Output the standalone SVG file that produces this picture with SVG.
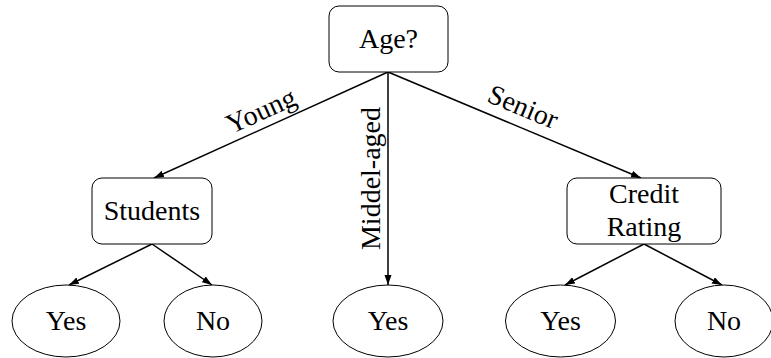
<svg xmlns="http://www.w3.org/2000/svg" width="771" height="358" viewBox="0 0 771 358">
<style>
  text { font-family: "Times New Roman", "Liberation Serif", Times, "DejaVu Serif", serif; font-size: 28px; fill: #000; text-anchor: middle; }
  .node { fill: #fff; stroke: #000; stroke-width: 1; }
  .edge { stroke: #000; stroke-width: 1.5; fill: none; marker-end: url(#arrow); }
</style>
<defs>
  <marker id="arrow" markerUnits="userSpaceOnUse" markerWidth="11" markerHeight="8" refX="10" refY="3.5" orient="auto">
    <path d="M0,0 L10,3.5 L0,7 z" fill="#000"/>
  </marker>
</defs>
<rect width="771" height="358" fill="#fff"/>
<g id="connectors">
  <line class="edge" x1="388" y1="72" x2="154" y2="178"/>
  <line class="edge" x1="388" y1="72" x2="388" y2="285"/>
  <line class="edge" x1="388" y1="72" x2="641" y2="178"/>
  <line class="edge" x1="152" y1="244" x2="69" y2="285"/>
  <line class="edge" x1="152" y1="244" x2="212" y2="285"/>
  <line class="edge" x1="644" y1="244" x2="565" y2="285"/>
  <line class="edge" x1="644" y1="244" x2="722" y2="285"/>
  <text transform="translate(264.7,119.2) rotate(-24.3)">Young</text>
  <text transform="translate(380,178.5) rotate(-90)">Middel-aged</text>
  <text transform="translate(519.5,115.3) rotate(22.65)">Senior</text>
</g>
<g id="age">
  <rect class="node" x="329" y="6" width="119" height="66" rx="10"/>
  <text x="388.5" y="48">Age?</text>
</g>
<g id="students">
  <rect class="node" x="92" y="178" width="120" height="66" rx="10"/>
  <text x="152" y="220">Students</text>
</g>
<g id="credit">
  <rect class="node" x="567" y="178" width="154" height="66" rx="10"/>
  <text x="644" y="203">Credit</text>
  <text x="644" y="236">Rating</text>
</g>
<g id="yes1">
  <ellipse class="node" cx="66" cy="321" rx="54" ry="36"/>
  <text x="66" y="330">Yes</text>
</g>
<g id="no1">
  <ellipse class="node" cx="213" cy="321" rx="49" ry="36"/>
  <text x="213" y="330">No</text>
</g>
<g id="yes2">
  <ellipse class="node" cx="388" cy="321" rx="55" ry="36"/>
  <text x="388" y="330">Yes</text>
</g>
<g id="yes3">
  <ellipse class="node" cx="560.5" cy="321" rx="55" ry="36"/>
  <text x="560.5" y="330">Yes</text>
</g>
<g id="no2">
  <ellipse class="node" cx="724" cy="321" rx="49" ry="36"/>
  <text x="724" y="330">No</text>
</g>
</svg>
